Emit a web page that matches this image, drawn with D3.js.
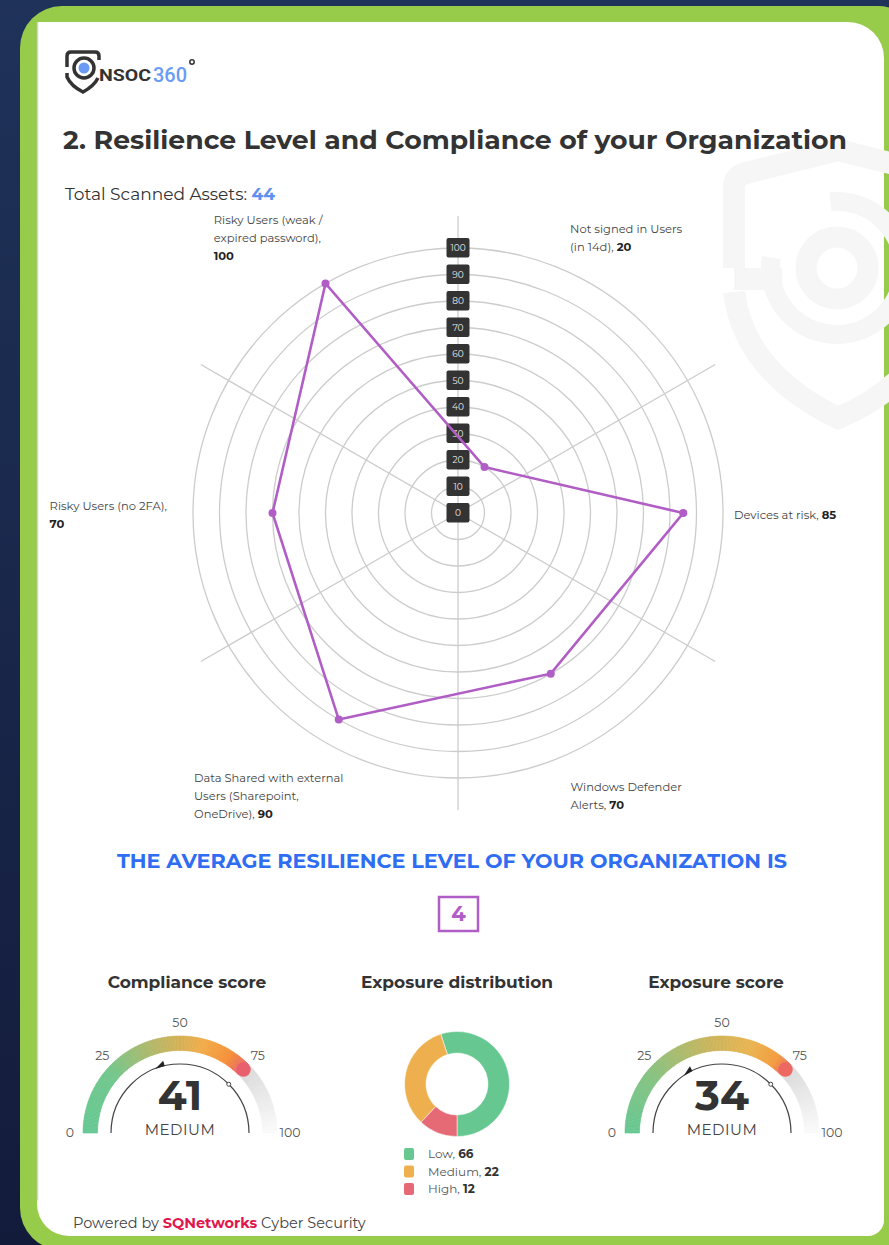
<!DOCTYPE html>
<html>
<meta charset="utf-8">
<head>
<script src="https://d3js.org/d3.v7.min.js"></script>
<style>
  body { margin: 0; background: #172447; }
  svg text { font-family: "Montserrat", "Open Sans", sans-serif; }
</style>
</head>
<body>
<script>
var width = 889, height = 1245;

// ---- data ----
var categories = ["Not signed in Users|(in 14d), ", "Devices at risk, ", "Windows Defender|Alerts, ",
  "Data Shared with external|Users (Sharepoint,|OneDrive), ", "Risky Users (no 2FA),|", "Risky Users (weak /|expired password),|"];
var values = [20, 85, 70, 90, 70, 100];
var radarTicks = [0, 10, 20, 30, 40, 50, 60, 70, 80, 90, 100];

var totalAssets = 44;
var resilienceLevel = 4;

var gaugeTitles = ["Compliance score", "Exposure score"];
var gaugeValues = [41, 34];
var gaugeLevels = ["MEDIUM", "MEDIUM"];
var gaugeTicks = [0, 25, 50, 75, 100];
var gaugeBandEnd = 75;

var exposureLevels = ["Low", "Medium", "High"];
var exposureCounts = [66, 22, 12];
var exposureShare = [55, 33, 12]; // slice sizes as drawn in the donut
var exposureColors = ["#66c790", "#eeb04e", "#e56a75"];

// ---- page ----
var svg = d3.select("body").append("svg").attr("width", width).attr("height", height);
var defs = svg.append("defs");
var bg = defs.append("linearGradient").attr("id", "bg").attr("x1", 0).attr("y1", 0).attr("x2", 0).attr("y2", 1);
bg.append("stop").attr("offset", "0%").attr("stop-color", "#1f3259");
bg.append("stop").attr("offset", "100%").attr("stop-color", "#131b3b");
svg.append("rect").attr("width", width).attr("height", height).attr("fill", "url(#bg)");

// green frame + white card
svg.append("rect").attr("x", 20).attr("y", 6).attr("width", 900).attr("height", 1244).attr("rx", 42).attr("fill", "#97cb4a");
svg.append("path")
  .attr("d", "M37,22 H848 A36,36 0 0 1 884,58 V1220 A16,16 0 0 1 868,1236 H69 A32,32 0 0 1 37,1204 Z")
  .attr("fill", "#fff");
svg.append("line").attr("x1", 37.5).attr("x2", 37.5).attr("y1", 22).attr("y2", 1200).attr("stroke", "#d0d0d0").attr("stroke-width", 1.5);

// watermark shield
var wmc = "#f6f6f6";
var wm = svg.append("g").attr("fill", "none").attr("stroke", wmc);
wm.append("path").attr("d", "M734,268 V186 Q734,176 746,173 L838,150 L930,173").attr("stroke-width", 22);
wm.append("path").attr("d", "M734,292 Q744,372 838,418 Q900,392 930,340").attr("stroke-width", 22);
wm.append("path").attr("d", "M734,279 H782").attr("stroke-width", 22);
wm.append("circle").attr("cx", 837).attr("cy", 268).attr("r", 31).attr("stroke-width", 21);
wm.append("path").attr("transform", "translate(837,268)")
  .attr("d", d3.arc()({innerRadius: 57, outerRadius: 76, startAngle: -0.1, endAngle: Math.PI * 1.55}))
  .attr("fill", wmc).attr("stroke", "none");

// logo
var logo = svg.append("g");
logo.append("path").attr("d", "M99,60 V56 Q99,52 95,52 H71 Q67,52 67,56 V67").attr("fill", "none").attr("stroke", "#333").attr("stroke-width", 3.5);
logo.append("path").attr("d", "M67,73 V77 Q71,86 83,92 Q94,86 98,78").attr("fill", "none").attr("stroke", "#333").attr("stroke-width", 3.5);
logo.append("circle").attr("cx", 84).attr("cy", 68).attr("r", 10).attr("fill", "none").attr("stroke", "#333").attr("stroke-width", 3.5);
logo.append("circle").attr("cx", 84).attr("cy", 68).attr("r", 5.5).attr("fill", "#6b9bf5");
logo.append("text").attr("x", 99).attr("y", 81).attr("font-size", 16).attr("font-weight", 700).attr("fill", "#333")
  .attr("textLength", 52).attr("lengthAdjust", "spacingAndGlyphs").style("font-family", "Roboto").text("NSOC");
logo.append("text").attr("x", 153).attr("y", 82).attr("font-size", 21).attr("font-weight", 500).attr("fill", "#6b9bf5")
  .attr("textLength", 34).attr("lengthAdjust", "spacingAndGlyphs").style("font-family", "Roboto").text("360");
logo.append("circle").attr("cx", 192).attr("cy", 62).attr("r", 2.2).attr("fill", "none").attr("stroke", "#333").attr("stroke-width", 1.5);

// title
svg.append("text").attr("x", 63).attr("y", 149).attr("font-size", 26).attr("font-weight", 700).attr("fill", "#333")
  .attr("textLength", 784).attr("lengthAdjust", "spacingAndGlyphs")
  .text("2. Resilience Level and Compliance of your Organization");

var tsa = svg.append("text").attr("x", 65).attr("y", 200).attr("font-size", 17).attr("fill", "#333");
tsa.append("tspan").text("Total Scanned Assets: ");
tsa.append("tspan").attr("font-weight", 700).attr("fill", "#5e90f0").text(totalAssets);

// ---- radar ----
var cx = 458, cy = 513;
var r = d3.scaleLinear().domain([0, 100]).range([0, 265]);
var angle = function(i) { return Math.PI / 6 + i * Math.PI / 3; };
var radar = svg.append("g").attr("transform", "translate(" + cx + "," + cy + ")");

radar.selectAll(".ring").data(radarTicks.slice(1)).enter().append("circle")
  .attr("r", function(d) { return r(d); })
  .attr("fill", "none").attr("stroke", "#cccccc").attr("stroke-width", 1.3);

radar.selectAll(".spoke").data(d3.range(6)).enter().append("line")
  .attr("x1", 0).attr("y1", 0)
  .attr("x2", function(d) { return 297 * Math.sin(d * Math.PI / 3); })
  .attr("y2", function(d) { return -297 * Math.cos(d * Math.PI / 3); })
  .attr("stroke", "#cccccc").attr("stroke-width", 1.3);

var tickG = radar.selectAll(".tick").data(radarTicks).enter().append("g")
  .attr("transform", function(d) { return "translate(0," + (-r(d)) + ")"; });
tickG.append("rect").attr("x", -11.5).attr("y", -10).attr("width", 23).attr("height", 19.5).attr("rx", 2).attr("fill", "#333");
tickG.append("text").attr("text-anchor", "middle").attr("dy", "0.35em").attr("font-size", 9).attr("fill", "#e8e8e8")
  .text(function(d) { return d; });

var line = d3.lineRadial()
  .angle(function(d, i) { return angle(i); })
  .radius(function(d) { return r(d); })
  .curve(d3.curveLinearClosed);
radar.append("path").datum(values).attr("d", line)
  .attr("fill", "none").attr("stroke", "#b15dc6").attr("stroke-width", 2.6);
radar.selectAll(".pt").data(values).enter().append("circle")
  .attr("cx", function(d, i) { return r(d) * Math.sin(angle(i)); })
  .attr("cy", function(d, i) { return -r(d) * Math.cos(angle(i)); })
  .attr("r", 4).attr("fill", "#b15dc6");

// axis labels
var lh = 18;
categories.forEach(function(name, i) {
  var lines = name.split("|");
  var g = radar.append("g");
  var t = g.append("text").attr("font-size", 11.5).attr("fill", "#444");
  lines.forEach(function(l, j) {
    var last = j === lines.length - 1;
    if (l.length) t.append("tspan").attr("x", 0).attr("y", j * lh).text(l);
    if (last) {
      var vt = t.append("tspan").attr("font-weight", 700).attr("fill", "#222").text(values[i]);
      if (!l.length) vt.attr("x", 0).attr("y", j * lh);
    }
  });
  var bb = t.node().getBBox();
  var a = angle(i), s = Math.sin(a), c = Math.cos(a);
  var x, y;
  if (Math.abs(c) < 0.01) {
    // side labels: nearest edge beside the outer ring, vertically centred
    x = s > 0 ? 276 : -291 - bb.width;
    y = -bb.height / 2 - bb.y + 2;
  } else {
    // corner labels: block centred a little past the ring, off the axis
    var la = a + Math.sign(s * c) * (2.5 * Math.PI / 180);
    var px = 330 * Math.sin(la), py = -330 * Math.cos(la);
    x = px - bb.width / 2 - (s < 0 ? 12 : 9);
    y = py - bb.height / 2 - bb.y + (c > 0 ? 3 : 5);
  }
  g.attr("transform", "translate(" + x + "," + y + ")");
});

// ---- average resilience ----
svg.append("text").attr("x", 452).attr("y", 868).attr("text-anchor", "middle").attr("font-size", 19).attr("font-weight", 700)
  .attr("fill", "#2f6df2").attr("textLength", 670).attr("lengthAdjust", "spacingAndGlyphs")
  .text("THE AVERAGE RESILIENCE LEVEL OF YOUR ORGANIZATION IS");
svg.append("rect").attr("x", 439).attr("y", 897).attr("width", 39).attr("height", 34)
  .attr("fill", "none").attr("stroke", "#b15dc6").attr("stroke-width", 2.5);
svg.append("text").attr("x", 458.5).attr("y", 921).attr("text-anchor", "middle").attr("font-size", 21).attr("font-weight", 700)
  .attr("fill", "#b15dc6").text(resilienceLevel);

// ---- section titles ----
svg.append("text").attr("x", 187).attr("y", 988).attr("text-anchor", "middle").attr("font-size", 17).attr("font-weight", 700).attr("fill", "#333").text(gaugeTitles[0]);
svg.append("text").attr("x", 457).attr("y", 988).attr("text-anchor", "middle").attr("font-size", 17).attr("font-weight", 700).attr("fill", "#333").text("Exposure distribution");
svg.append("text").attr("x", 716).attr("y", 988).attr("text-anchor", "middle").attr("font-size", 17).attr("font-weight", 700).attr("fill", "#333").text(gaugeTitles[1]);

// ---- gauges ----
var ga = d3.scaleLinear().domain([0, 100]).range([-Math.PI / 2, Math.PI / 2]);
var bandColors = [
  d3.scaleLinear().domain([0, 22, 45, 58, 68, 75]).range(["#64c791", "#6fc68b", "#c4b35d", "#f1ab48", "#f58e35", "#e8606e"]),
  d3.scaleLinear().domain([0, 22, 45, 60, 70, 75]).range(["#64c791", "#86c17f", "#c8b45b", "#e9b34f", "#f39b3b", "#ec6860"])
];
var grayBand = d3.scaleLinear().domain([gaugeBandEnd, 100]).range(["#d9d9d9", "#fbfbfb"]);
var gaugeX = [180, 722], gaugeY = 1133;
var rOut = 97, rIn = 82.5, rThin = 69, rLab = 110;

gaugeValues.forEach(function(v, k) {
  var g = svg.append("g").attr("transform", "translate(" + gaugeX[k] + "," + gaugeY + ")");
  var arc = d3.arc().innerRadius(rIn).outerRadius(rOut);
  var steps = d3.range(gaugeBandEnd, 100, 0.5);
  g.selectAll(".gr").data(steps).enter().append("path")
    .attr("d", function(d) { return arc({startAngle: ga(d), endAngle: ga(Math.min(100, d + 0.5))}); })
    .attr("fill", function(d) { return grayBand(d); })
    .attr("stroke", function(d) { return grayBand(d); }).attr("stroke-width", 0.6);
  var cs = d3.range(0, gaugeBandEnd, 0.5);
  g.selectAll(".cb").data(cs).enter().append("path")
    .attr("d", function(d) { return arc({startAngle: ga(d), endAngle: ga(Math.min(gaugeBandEnd, d + 0.5))}); })
    .attr("fill", function(d) { return bandColors[k](d); })
    .attr("stroke", function(d) { return bandColors[k](d); }).attr("stroke-width", 0.6);
  var ea = ga(gaugeBandEnd), rm = (rIn + rOut) / 2;
  g.append("circle").attr("cx", rm * Math.sin(ea)).attr("cy", -rm * Math.cos(ea)).attr("r", (rOut - rIn) / 2)
    .attr("fill", bandColors[k](gaugeBandEnd));

  g.selectAll(".gl").data(gaugeTicks).enter().append("text")
    .attr("x", function(d) { return rLab * Math.sin(ga(d)); })
    .attr("y", function(d) { return -rLab * Math.cos(ga(d)); })
    .attr("text-anchor", "middle").attr("dy", "0.35em").attr("font-size", 12.5).attr("fill", "#555")
    .text(function(d) { return d; });

  g.append("path").attr("d", d3.arc()({innerRadius: rThin, outerRadius: rThin, startAngle: ga(0), endAngle: ga(100)}))
    .attr("fill", "none").attr("stroke", "#444").attr("stroke-width", 1.2);

  var deg = ga(v) * 180 / Math.PI;
  g.append("path").attr("transform", "rotate(" + deg + ") translate(0," + (-rThin) + ")")
    .attr("d", "M-6,0.5 L4,-5 L4,0.5 Z").attr("fill", "#222");
  var md = ga(gaugeBandEnd);
  g.append("circle").attr("cx", rThin * Math.sin(md)).attr("cy", -rThin * Math.cos(md)).attr("r", 2)
    .attr("fill", "#fff").attr("stroke", "#444").attr("stroke-width", 1);

  g.append("text").attr("text-anchor", "middle").attr("y", -23).attr("font-size", 42).attr("font-weight", 700).attr("fill", "#333").text(v);
  g.append("text").attr("text-anchor", "middle").attr("y", 1.5).attr("font-size", 15).attr("fill", "#444")
    .attr("letter-spacing", 0.5).text(gaugeLevels[k]);
});

// ---- donut ----
var pie = d3.pie().sort(null).startAngle(Math.PI).endAngle(-Math.PI);
var donut = svg.append("g").attr("transform", "translate(457,1084)");
donut.selectAll("path").data(pie(exposureShare)).enter().append("path")
  .attr("d", d3.arc().innerRadius(31).outerRadius(52.5))
  .attr("fill", function(d, i) { return exposureColors[i]; })
  .attr("stroke", "#fff").attr("stroke-width", 0.5);

var leg = svg.selectAll(".leg").data(exposureLevels).enter().append("g")
  .attr("transform", function(d, i) { return "translate(404," + (1154 + i * 17.5) + ")"; });
leg.append("rect").attr("x", 0).attr("y", -6).attr("width", 10).attr("height", 12).attr("rx", 2)
  .attr("fill", function(d, i) { return exposureColors[i]; });
var lt = leg.append("text").attr("x", 24).attr("dy", "0.35em").attr("font-size", 12).attr("fill", "#555");
lt.append("tspan").text(function(d) { return d + ", "; });
lt.append("tspan").attr("font-weight", 700).attr("fill", "#333").text(function(d, i) { return exposureCounts[i]; });

// ---- footer ----
var ft = svg.append("text").attr("x", 73).attr("y", 1228).attr("font-size", 14.5).attr("fill", "#444");
ft.append("tspan").text("Powered by ");
ft.append("tspan").attr("font-weight", 700).attr("fill", "#e0174d").text("SQNetworks");
ft.append("tspan").text(" Cyber Security");
</script>
</body>
</html>
